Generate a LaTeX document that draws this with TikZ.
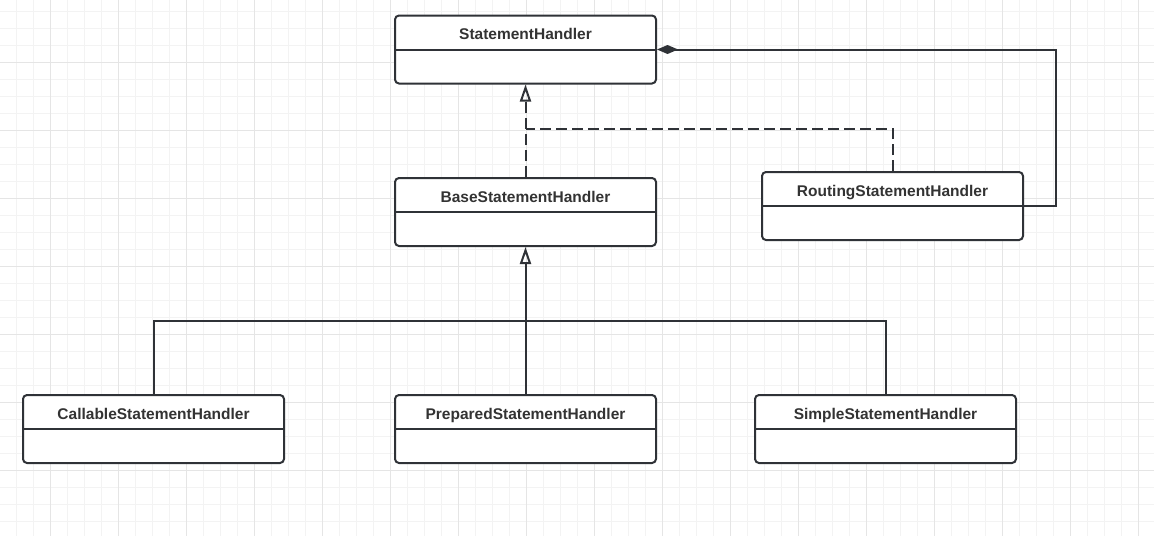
\documentclass[tikz,border=0pt]{standalone}
\usepackage{fontspec}
\setmainfont{Liberation Sans}
\usetikzlibrary{arrows.meta}
\definecolor{umlline}{RGB}{47,50,55}
\definecolor{umltext}{RGB}{51,51,51}
\definecolor{gridminor}{RGB}{243,243,243}
\definecolor{gridmajor}{RGB}{229,229,229}

\begin{document}
\begin{tikzpicture}[x=1pt, y=-1pt,
                    classbox/.style={rectangle, draw=umlline, line width=2pt, rounded corners=4pt,
                                     fill=white, minimum width=261pt, minimum height=68pt, inner sep=0pt},
                    classname/.style={font=\fontsize{15.5}{18}\selectfont\bfseries, text=umltext, anchor=base},
                    divider/.style={draw=umlline, line width=2pt},
                    inherit/.style={-{Triangle[open, length=17pt, width=11pt]}, line width=2pt, draw=umlline},
                    realize/.style={inherit, dash pattern=on 11pt off 5pt},
                    compose/.style={-{Diamond[length=21pt, width=9pt]}, line width=2pt, draw=umlline}]
  % background and grid
  \useasboundingbox[fill=white] (0,0) rectangle (1154,536);
  \foreach \gx in {16,33,...,1154}
    \draw[gridminor, line width=1pt] (\gx,0) -- (\gx,536);
  \foreach \gy in {11,28,...,536}
    \draw[gridminor, line width=1pt] (0,\gy) -- (1154,\gy);
  \foreach \gx in {50,118,...,1154}
    \draw[gridmajor, line width=1pt] (\gx,0) -- (\gx,536);
  \foreach \gy in {62,130,...,536}
    \draw[gridmajor, line width=1pt] (0,\gy) -- (1154,\gy);

  % classes
  \node[classbox] (stmtHandler) at (525.5,49.5) {};
  \node[classbox] (baseHandler) at (525.5,212) {};
  \node[classbox] (routingHandler) at (892.5,206) {};
  \node[classbox] (callableHandler) at (153.5,429) {};
  \node[classbox] (preparedHandler) at (525.5,429) {};
  \node[classbox] (simpleHandler) at (885.5,429) {};

  \node[classname] (stmtHandlerName) at ([yshift=10pt]stmtHandler.center) {StatementHandler};
  \node[classname] (baseHandlerName) at ([yshift=10pt]baseHandler.center) {BaseStatementHandler};
  \node[classname] (routingHandlerName) at ([yshift=10pt]routingHandler.center) {RoutingStatementHandler};
  \node[classname] (callableHandlerName) at ([yshift=10pt]callableHandler.center) {CallableStatementHandler};
  \node[classname] (preparedHandlerName) at ([yshift=10pt]preparedHandler.center) {PreparedStatementHandler};
  \node[classname] (simpleHandlerName) at ([yshift=10pt]simpleHandler.center) {SimpleStatementHandler};

  \foreach \cls in {stmtHandler,baseHandler,routingHandler,callableHandler,preparedHandler,simpleHandler}
    \draw[divider] (\cls.west) -- (\cls.east);

  % realization
  \coordinate (realizeJoin) at (525.5,129);
  \draw[realize] (baseHandler.north) -- (stmtHandler.south);
  \draw[realize, -] (routingHandler.north) |- (realizeJoin);

  % composition
  \coordinate (composeCorner) at (1056,49.5);
  \draw[compose] (routingHandler.east) -| (composeCorner) -- (stmtHandler.east);

  % inheritance
  \coordinate (inheritJoin) at (525.5,321);
  \draw[inherit] (preparedHandler.north) -- (baseHandler.south);
  \draw[inherit, -] (callableHandler.north) |- (inheritJoin) -| (simpleHandler.north);
\end{tikzpicture}
\end{document}
